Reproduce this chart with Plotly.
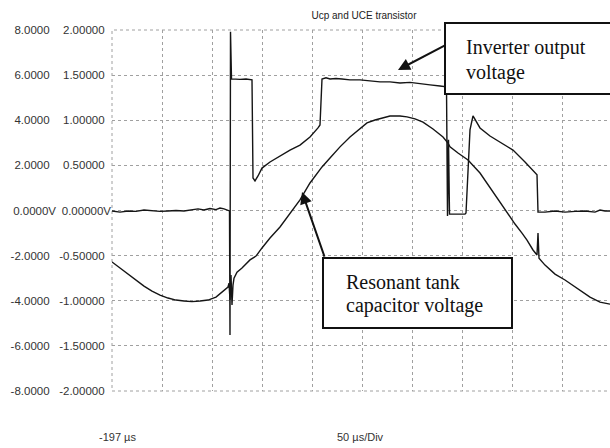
import plotly.graph_objects as go

# ---------------- data (time in µs, value on the ±8 V scale) ----------------
inv_t = [-197, -189, -181, -173, -165, -157, -149, -141, -133, -125, -117, -111, -105, -99, -93, -89, -85, -81,
         -79.5, -79, -78.5, -77.5, -69, -63, -57, -56, -54, -51, -47, -39, -29, -19, -9, 1, 9, 11, 13, 17, 21, 27,
         33, 41, 51, 61, 71, 81, 91, 101, 111, 121, 131, 136, 137.5, 138.5, 139.5, 140.5, 146, 151, 156, 157,
         159, 161, 164, 171, 181, 191, 204, 216, 226, 228, 229, 236, 246, 256, 266, 276, 286, 291, 296, 301]
inv_v = [-0.02, -0.07, -0.02, -0.04, 0.02, -0.02, -0.04, -0.02, 0.0, -0.02, 0.02, 0.07, 0.02, 0.09, 0.04, 0.11,
         0.07, 0.02, -0.02, -5.52, 7.92, 5.83, 5.81, 5.83, 5.79, 1.44, 1.31, 1.53, 1.88, 2.15, 2.42, 2.68, 2.90,
         3.26, 3.66, 3.79, 5.83, 5.88, 5.83, 5.85, 5.83, 5.79, 5.79, 5.74, 5.70, 5.70, 5.65, 5.68, 5.61, 5.57,
         5.52, 5.50, 5.48, -0.24, 3.13, -0.16, -0.16, -0.13, -0.16, -0.11, 1.80, 3.57, 4.19, 3.66, 3.30, 3.04,
         2.68, 2.15, 1.71, 1.58, -0.07, -0.07, -0.02, -0.07, -0.04, -0.02, -0.07, 0.02, -0.02, -0.02]

cap_t = [-197, -189, -181, -173, -165, -157, -149, -141, -133, -125, -117, -109, -101, -93, -87, -83, -81, -80,
         -79, -78, -77, -76, -75, -72, -67, -59, -53, -47, -39, -29, -19, -9, 1, 13, 21, 31, 41, 51, 58, 66, 71,
         81, 91, 98, 106, 114, 124, 134, 139, 141, 149, 159, 171, 181, 191, 198, 206, 213, 218, 224, 228, 229,
         230, 236, 246, 256, 266, 276, 281, 291, 301]
cap_v = [-2.28, -2.55, -2.82, -3.08, -3.35, -3.57, -3.75, -3.88, -3.97, -4.01, -4.04, -4.01, -3.97, -3.84, -3.61,
         -3.48, -3.39, -3.22, -3.97, -2.86, -4.19, -3.31, -3.00, -2.73, -2.55, -2.19, -2.02, -1.66, -1.22, -0.73,
         -0.11, 0.47, 1.22, 1.93, 2.33, 2.82, 3.26, 3.61, 3.88, 4.01, 4.06, 4.19, 4.19, 4.15, 4.06, 3.92, 3.61,
         3.26, 2.99, 2.82, 2.55, 2.24, 1.66, 1.00, 0.38, -0.11, -0.60, -1.00, -1.31, -1.75, -1.97, -1.00, -2.11,
         -2.42, -2.82, -3.08, -3.39, -3.66, -3.84, -4.06, -4.15]

y_ticks = [8, 6, 4, 2, 0, -2, -4, -6, -8]
left_labels = ["8.0000", "6.0000", "4.0000", "2.0000", "0.0000V", "-2.0000", "-4.0000", "-6.0000", "-8.0000"]
right_labels = ["2.00000", "1.50000", "1.00000", "0.50000", "0.00000V", "-0.50000", "-1.00000", "-1.50000",
                "-2.00000"]
x_ticks = [-197, -147, -97, -47, 3, 53, 103, 153, 203, 253, 303]

title_text = "Ucp and UCE transistor"
start_label = "-197 µs"
div_label = "50 µs/Div"
box1_lines = ["Inverter output", "voltage"]
box2_lines = ["Resonant tank", "capacitor voltage"]

# ---------------- layout helpers ----------------
W, H = 610, 448
PL, PR, PT, PB = 112, 610, 30, 391  # plot area in pixels


def pad(s):
    return s if s.endswith("V") else s + "\u00a0\u00a0"


def px(x):
    return x / W


def py(y):
    return (PB - y) / (PB - PT)


LINE = "#151515"
GRID = "#a0a0a0"
SANS = "Liberation Sans, Arial, sans-serif"
SERIF = "Liberation Serif, Times New Roman, serif"
TICKFONT = dict(family=SANS, size=11.5, color="#333")

fig = go.Figure()
fig.add_trace(go.Scatter(x=inv_t, y=inv_v, mode="lines", line=dict(color=LINE, width=1.4),
                         hoverinfo="skip", showlegend=False))
fig.add_trace(go.Scatter(x=cap_t, y=cap_v, mode="lines", line=dict(color=LINE, width=1.4),
                         hoverinfo="skip", showlegend=False, yaxis="y2"))

fig.update_layout(
    width=W, height=H,
    margin=dict(l=0, r=0, t=PT, b=H - PB, pad=0),
    paper_bgcolor="white", plot_bgcolor="white",
    showlegend=False,
    title=dict(text=title_text, x=364 / W, xanchor="center", y=1 - 15 / H, yanchor="middle",
               font=dict(family=SANS, size=10, color="#222")),
    xaxis=dict(domain=[PL / W, 1], range=[-197, 301], tickvals=x_ticks, showticklabels=False,
               showgrid=True, gridcolor=GRID, griddash="dot", gridwidth=1, zeroline=False,
               showline=False, ticks=""),
    yaxis=dict(range=[-8, 8], tickvals=y_ticks, ticktext=[pad(s) for s in right_labels],
               showgrid=True, gridcolor=GRID, griddash="dot", gridwidth=1, zeroline=False,
               showline=False, ticks="", tickfont=TICKFONT),
    yaxis2=dict(range=[-8, 8], tickvals=y_ticks, ticktext=[pad(s) for s in left_labels],
                overlaying="y", anchor="free", position=56 / W, side="left",
                showgrid=False, zeroline=False, showline=False, ticks="", tickfont=TICKFONT),
)

# dotted frame (grid lines on the plot edges)
fig.add_shape(type="rect", xref="paper", yref="paper", x0=px(PL), x1=px(PR + 5), y0=0, y1=1,
              line=dict(color=GRID, width=1, dash="dot"), fillcolor="rgba(0,0,0,0)", layer="below")

# annotation boxes
fig.add_shape(type="rect", xref="paper", yref="paper", x0=px(445), x1=px(612), y0=py(94), y1=py(23),
              line=dict(color="#111", width=2), fillcolor="white", layer="above")
fig.add_shape(type="rect", xref="paper", yref="paper", x0=px(323), x1=px(512), y0=py(328), y1=py(258),
              line=dict(color="#111", width=2), fillcolor="white", layer="above")

for txt, ypx in zip(box1_lines, [48, 72]):
    fig.add_annotation(text=txt, xref="paper", yref="paper", x=px(464), y=py(ypx), xanchor="left",
                       yanchor="middle", showarrow=False, font=dict(family=SERIF, size=20, color="#111"))
for txt, ypx in zip(box2_lines, [282, 305]):
    fig.add_annotation(text=txt, xref="paper", yref="paper", x=px(344), y=py(ypx), xanchor="left",
                       yanchor="middle", showarrow=False, font=dict(family=SERIF, size=20, color="#111"))

# arrows
fig.add_annotation(x=89, y=6.23, ax=137, ay=7.34, xref="x", yref="y", axref="x", ayref="y", text="",
                   showarrow=True, arrowhead=2, arrowsize=1.2, arrowwidth=2, arrowcolor="#111")
fig.add_annotation(x=-7, y=0.82, ax=16, ay=-2.11, xref="x", yref="y", axref="x", ayref="y", text="",
                   showarrow=True, arrowhead=2, arrowsize=1.2, arrowwidth=2, arrowcolor="#111")

# bottom labels
fig.add_annotation(text=start_label, xref="paper", yref="paper", x=px(97), y=py(437), xanchor="left",
                   yanchor="middle", showarrow=False, font=dict(family=SANS, size=11, color="#333"))
fig.add_annotation(text=div_label, xref="paper", yref="paper", x=px(335), y=py(437), xanchor="left",
                   yanchor="middle", showarrow=False, font=dict(family=SANS, size=11, color="#333"))

fig.write_html("out.html")
